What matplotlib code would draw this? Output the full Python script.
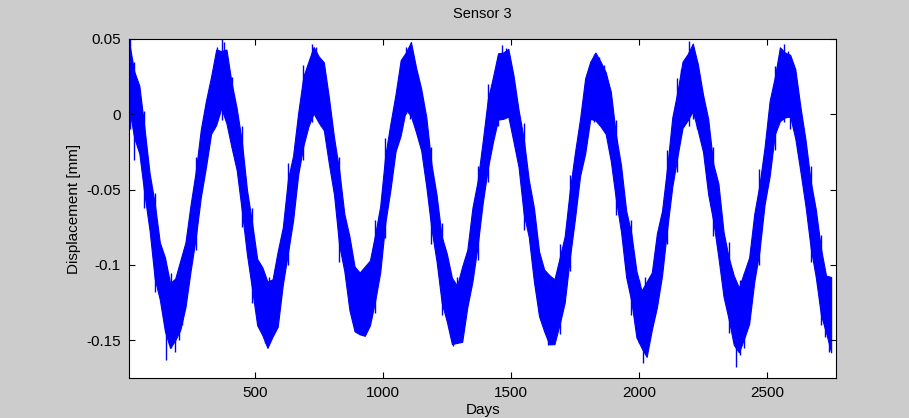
import matplotlib
matplotlib.use("Agg")
import matplotlib.pyplot as plt

# envelope of the sensor trace, every 20 days
days = list(range(10, 2751, 20))
upper = [0.048, 0.0285, 0.019, -0.009, -0.039, -0.059, -0.085, -0.095, -0.112, -0.109,
         -0.097, -0.085, -0.060, -0.038, -0.010, 0.009, 0.025, 0.043, 0.042, 0.043,
         0.021, 0.004, -0.018, -0.050, -0.072, -0.096, -0.1015, -0.111, -0.1095, -0.091,
         -0.075, -0.043, -0.0275, 0.001, 0.025, 0.035, 0.0447, 0.0385, 0.0345, 0.011,
         -0.0155, -0.037, -0.066, -0.081, -0.101, -0.105, -0.101, -0.097, -0.080, -0.061,
         -0.027, -0.006, 0.0134, 0.036, 0.041, 0.048, 0.031, 0.017, -0.002, -0.033,
         -0.0535, -0.081, -0.0925, -0.1085, -0.1137, -0.101, -0.090, -0.062, -0.0445, -0.018,
         0.010, 0.0246, 0.0405, 0.041, 0.0435, 0.026, 0.003, -0.016, -0.0435, -0.062,
         -0.091, -0.103, -0.1067, -0.1095, -0.0955, -0.081, -0.0505, -0.0255, -0.003, 0.024,
         0.035, 0.041, 0.035, 0.028, 0.015, -0.0135, -0.034, -0.064, -0.079, -0.104,
         -0.117, -0.111, -0.105, -0.079, -0.064, -0.035, -0.002, 0.015, 0.035, 0.040,
         0.047, 0.033, 0.013, -0.003, -0.033, -0.046, -0.078, -0.095, -0.107, -0.115,
         -0.105, -0.095, -0.066, -0.047, -0.022, 0.009, 0.0246, 0.0445, 0.041, 0.0395,
         0.030, 0.005, -0.017, -0.0445, -0.063, -0.089, -0.107, -0.108]
lower = [0.004, -0.0155, -0.026, -0.053, -0.077, -0.109, -0.123, -0.144, -0.155, -0.150,
         -0.143, -0.128, -0.104, -0.082, -0.055, -0.035, -0.013, -0.007, 0.004, -0.006,
         -0.022, -0.037, -0.064, -0.093, -0.116, -0.140, -0.1465, -0.155, -0.1475, -0.141,
         -0.113, -0.092, -0.0705, -0.040, -0.021, -0.008, 0.0007, -0.0055, -0.0105, -0.033,
         -0.0535, -0.087, -0.104, -0.130, -0.144, -0.146, -0.147, -0.140, -0.124, -0.105,
         -0.072, -0.050, -0.0246, -0.014, 0.003, -0.001, -0.012, -0.024, -0.048, -0.076,
         -0.0975, -0.125, -0.1375, -0.1525, -0.1517, -0.151, -0.128, -0.111, -0.0875, -0.059,
         -0.036, -0.0184, -0.0035, -0.003, -0.0015, -0.018, -0.035, -0.066, -0.0815, -0.111,
         -0.134, -0.144, -0.1527, -0.1525, -0.1395, -0.125, -0.0955, -0.0695, -0.041, -0.026,
         -0.003, -0.004, -0.008, -0.013, -0.031, -0.0565, -0.078, -0.108, -0.124, -0.148,
         -0.155, -0.161, -0.143, -0.128, -0.107, -0.076, -0.048, -0.028, -0.009, -0.004,
         0.002, -0.011, -0.025, -0.053, -0.071, -0.095, -0.121, -0.136, -0.153, -0.158,
         -0.149, -0.139, -0.111, -0.091, -0.060, -0.041, -0.0134, -0.0045, -0.002, -0.0015,
         -0.016, -0.038, -0.061, -0.0885, -0.108, -0.133, -0.145, -0.158]

# isolated spikes sticking out of the band
spike_days = [12, 30, 156, 165, 175, 190, 205, 215, 340, 355, 372, 380, 395, 410,
              530, 540, 555, 565, 705, 725, 740, 760, 905, 925, 940, 1090, 1105, 1120,
              1275, 1290, 1300, 1450, 1465, 1480, 1645, 1660, 1675, 1825, 1845, 1865,
              2000, 2015, 2025, 2040, 2165, 2195, 2210, 2225, 2370, 2380, 2395, 2410,
              2545, 2565, 2580, 2590, 2725, 2740,
              70, 110, 270, 450, 490, 630, 690, 830, 970, 1010, 1190, 1230, 1370, 1410,
              1550, 1690, 1730, 1910, 1970, 2110, 2150, 2290, 2350, 2470, 2530, 2670, 2710]
spike_bottom = [-0.010, -0.030, -0.163, -0.152, -0.155, -0.158, -0.150, -0.140, -0.010, 0.000,
                -0.004, 0.002, -0.005, -0.015, -0.145, -0.152, -0.148, -0.145, -0.010, -0.005,
                -0.002, -0.008, -0.145, -0.143, -0.140, 0.000, -0.003, -0.005, -0.154, -0.150,
                -0.148, -0.008, -0.003, 0.000, -0.153, -0.150, -0.145, -0.005, -0.002, -0.010,
                -0.152, -0.165, -0.158, -0.150, -0.012, -0.008, -0.003, -0.010, -0.152, -0.168,
                -0.160, -0.155, -0.005, -0.005, 0.000, -0.010, -0.148, -0.158,
                -0.062, -0.118, -0.090, -0.075, -0.125, -0.100, -0.030, -0.098, -0.132, -0.082,
                -0.086, -0.133, -0.097, -0.045, -0.077, -0.146, -0.104, -0.067, -0.133, -0.086,
                -0.038, -0.081, -0.145, -0.100, -0.024, -0.098, -0.140]
spike_top = [0.050, 0.035, -0.120, -0.108, -0.105, -0.110, -0.105, -0.110, 0.030, 0.045,
             0.050, 0.048, 0.030, 0.025, -0.115, -0.110, -0.108, -0.112, 0.030, 0.047,
             0.045, 0.035, -0.108, -0.105, -0.108, 0.045, 0.044, 0.035, -0.115, -0.108,
             -0.110, 0.038, 0.046, 0.044, -0.108, -0.110, -0.110, 0.040, 0.038, 0.033,
             -0.110, -0.120, -0.108, -0.112, 0.030, 0.049, 0.045, 0.035, -0.115, -0.120,
             -0.110, -0.105, 0.035, 0.047, 0.042, 0.030, -0.120, -0.120,
             0.002, -0.052, -0.028, -0.008, -0.062, -0.032, 0.033, -0.028, -0.070, -0.016,
             -0.022, -0.072, -0.034, 0.020, -0.006, -0.086, -0.040, -0.004, -0.070, -0.024,
             0.024, -0.022, -0.085, -0.036, 0.032, -0.034, -0.080]

x_ticks = [500, 1000, 1500, 2000, 2500]
y_ticks = [-0.15, -0.1, -0.05, 0, 0.05]
y_tick_labels = ["-0.15", "-0.1", "-0.05", "0", "0.05"]

plt.rcParams["font.family"] = ["Liberation Sans", "DejaVu Sans"]

fig = plt.figure(figsize=(9.09, 4.18), dpi=100, facecolor="#cccccc")
ax = fig.add_axes([0.142, 0.0957, 0.778, 0.811])
ax.set_facecolor("white")

blue = "#0000ff"
ax.fill_between(days, lower, upper, color=blue, linewidth=0.8, edgecolor=blue)
ax.vlines(spike_days, spike_bottom, spike_top, color=blue, linewidth=1.0)

ax.set_xlim(10, 2770)
ax.set_ylim(-0.175, 0.05)
ax.set_xticks(x_ticks)
ax.set_xticklabels([str(t) for t in x_ticks])
ax.set_yticks(y_ticks)
ax.set_yticklabels(y_tick_labels)
ax.tick_params(direction="in", length=4, width=0.8, top=True, right=True,
               labelsize=11, pad=6)
for sp in ax.spines.values():
    sp.set_linewidth(0.8)

ax.set_title("Sensor 3", fontsize=10.5, pad=15)
ax.set_xlabel("Days", fontsize=11, labelpad=2)
ax.set_ylabel("Displacement [mm]", fontsize=11, labelpad=4)

fig.savefig("out.png", dpi=100, facecolor=fig.get_facecolor())
